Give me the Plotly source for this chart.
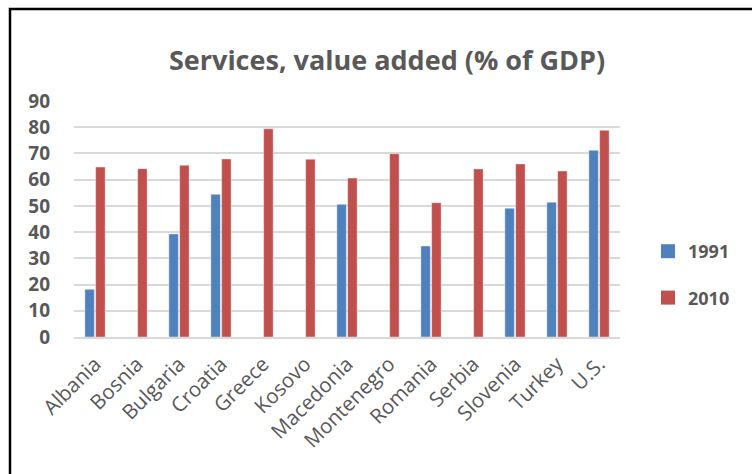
import plotly.graph_objects as go

countries = ["Albania", "Bosnia", "Bulgaria", "Croatia", "Greece", "Kosovo",
             "Macedonia", "Montenegro", "Romania", "Serbia", "Slovenia",
             "Turkey", "U.S."]
y1991 = [18.2, None, 39.3, 54.4, None, None, 50.6, None, 34.7, None, 49.1, 51.4, 71.2]
y2010 = [64.8, 64.2, 65.5, 67.9, 79.4, 67.8, 60.6, 69.9, 51.2, 64.1, 66.0, 63.3, 78.8]
y_ticks = [0, 10, 20, 30, 40, 50, 60, 70, 80, 90]
series = [("1991", y1991, "#4f81bd"), ("2010", y2010, "#c0504d")]

W, H = 752, 474
L, R, T, B = 74, 620, 101, 337
GREY = "#595959"

fig = go.Figure()
for name, vals, color in series:
    fig.add_bar(name=name, x=countries, y=vals, marker_color=color,
                legendgroup=name, showlegend=False,
                marker_line=dict(color="rgba(255,255,255,0.5)", width=0.8))
# square legend keys
for name, vals, color in series:
    fig.add_scatter(name=name, x=[None], y=[None], mode="markers",
                    legendgroup=name, showlegend=True,
                    marker=dict(symbol="square", size=14, color=color))

def px_x(p):
    return (p - L) / (R - L)

def px_y(p):
    return (B - p) / (B - T)

fig.update_layout(
    width=W, height=H,
    margin=dict(l=L, r=W - R, t=T, b=H - B, autoexpand=False),
    paper_bgcolor="white", plot_bgcolor="white",
    barmode="group", bargap=0.486, bargroupgap=0.12,
    font=dict(family="Open Sans", color=GREY),
    title=dict(text="Services, value added (% of GDP)",
               x=px_x(387), xref="paper", xanchor="center",
               y=1 - 61 / H, yanchor="middle",
               font=dict(size=27, color=GREY, weight="bold")),
    legend=dict(x=px_x(648), y=px_y(233), xref="paper", yref="paper",
                xanchor="left", yanchor="top",
                font=dict(size=18, color=GREY, family="Open Sans", weight="bold"),
                tracegroupgap=20, itemwidth=30),
    showlegend=True,
    xaxis=dict(tickangle=-45, tickfont=dict(size=20.5, color=GREY),
               showgrid=False, showline=True, linecolor="#d9d9d9", linewidth=2,
               ticks="", ticklabelstandoff=5),
    yaxis=dict(range=[0, 90], tickvals=y_ticks,
               tickfont=dict(size=19, color=GREY, weight="bold"),
               showgrid=True, gridcolor="#d9d9d9", gridwidth=2,
               zeroline=False, ticklabelstandoff=23, ticks=""),
    shapes=[dict(type="rect", xref="paper", yref="paper",
                 x0=px_x(10), x1=px_x(900), y0=px_y(600), y1=px_y(9),
                 line=dict(color="black", width=2.5), layer="above")],
)

fig.write_html("out.html")
